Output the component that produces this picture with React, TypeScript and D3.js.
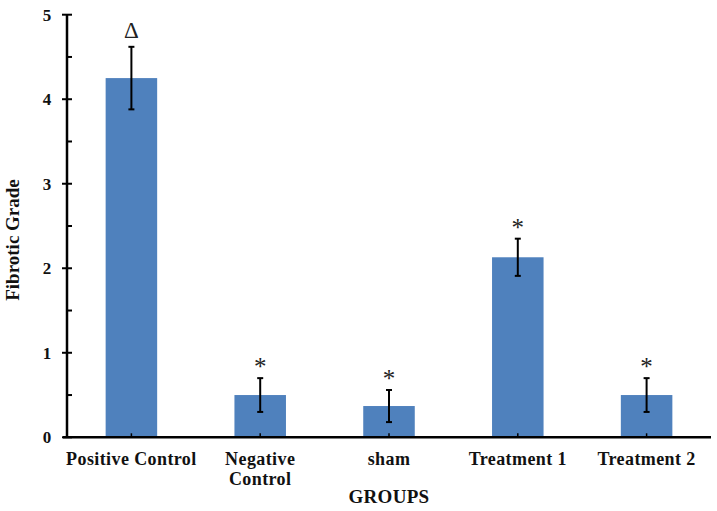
import React from "react";
import * as d3 from "d3";

const categories = ["Positive Control", "Negative Control", "sham", "Treatment 1", "Treatment 2"];
const labelLines = [["Positive Control"], ["Negative", "Control"], ["sham"], ["Treatment 1"], ["Treatment 2"]];
const values = [4.25, 0.5, 0.37, 2.13, 0.5];
const errors = [0.37, 0.2, 0.19, 0.22, 0.2];
const marks = ["Δ", "*", "*", "*", "*"];
const yTicks = [0, 1, 2, 3, 4, 5];
const yMinorTicks = [0.5, 1.5, 2.5, 3.5, 4.5];

const W = 717, H = 511;
const left = 67, right = 711, top = 14.7, bottom = 437.3;
const font = "Liberation Serif, serif";

export default function App() {
  const x = d3.scaleBand<string>().domain(categories).range([left, right]).paddingInner(0.6).paddingOuter(0.3);
  const y = d3.scaleLinear().domain([0, 5]).range([bottom, top]);
  const bw = x.bandwidth();
  return (
    <svg width={W} height={H} style={{ position: "absolute", left: 0, top: 0, background: "#fff" }}>
      {categories.map((c, i) => {
        const cx = (x(c) as number) + bw / 2;
        const v = values[i], e = errors[i];
        return (
          <g key={c}>
            <rect x={x(c)} y={y(v)} width={bw} height={bottom - y(v)} fill="#4f81bd" />
            <line x1={cx} x2={cx} y1={y(v + e)} y2={y(v - e)} stroke="#000" strokeWidth={2} />
            <line x1={cx - 3} x2={cx + 3} y1={y(v + e)} y2={y(v + e)} stroke="#000" strokeWidth={2} />
            <line x1={cx - 3} x2={cx + 3} y1={y(v - e)} y2={y(v - e)} stroke="#000" strokeWidth={2} />
            <line x1={cx} x2={cx} y1={bottom} y2={bottom - 4} stroke="#000" strokeWidth={1.5} />
            <text x={cx} y={y(v + e) - (i === 0 ? 9 : 3)} textAnchor="middle" fontFamily={font}
              fontSize={i === 0 ? 23 : 25} fill="#222">{marks[i]}</text>
            {labelLines[i].map((l, j) => (
              <text key={j} x={cx} y={465 + j * 20} textAnchor="middle" fontFamily={font} fontWeight="bold" fontSize={18} letterSpacing={0.4} fill="#111">{l}</text>
            ))}
          </g>
        );
      })}
      <line x1={left} x2={left} y1={top} y2={bottom} stroke="#000" strokeWidth={2.5} />
      <line x1={left - 4} x2={right} y1={bottom} y2={bottom} stroke="#000" strokeWidth={2.5} />
      {yTicks.map((t) => (
        <g key={t}>
          <line x1={left - 5} x2={left + 5} y1={y(t)} y2={y(t)} stroke="#000" strokeWidth={2} />
          <text x={47} y={y(t) + 6} textAnchor="middle" fontFamily={font} fontWeight="bold" fontSize={17} fill="#111">{t}</text>
        </g>
      ))}
      {yMinorTicks.map((t) => (
        <line key={t} x1={left} x2={left + 5} y1={y(t)} y2={y(t)} stroke="#000" strokeWidth={2} />
      ))}
      <text transform={`translate(19,240) rotate(-90)`} textAnchor="middle" fontFamily={font} fontWeight="bold" fontSize={19} fill="#111">Fibrotic Grade</text>
      <text x={389} y={503} textAnchor="middle" fontFamily={font} fontWeight="bold" fontSize={19} letterSpacing={0.3} fill="#111">GROUPS</text>
    </svg>
  );
}
